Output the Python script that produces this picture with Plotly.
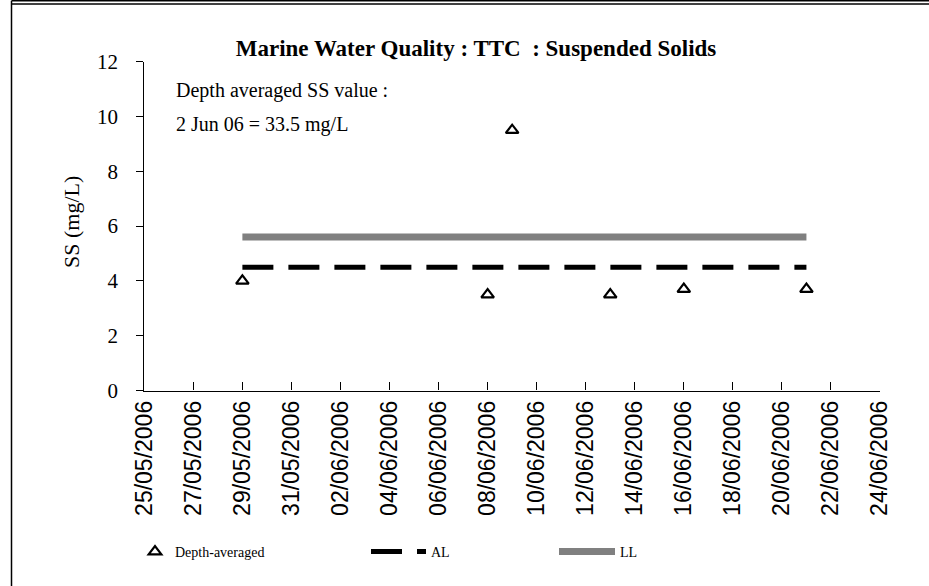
import plotly.graph_objects as go

# 측정 데이터
sample_dates = ['2006-05-29', '2006-06-08', '2006-06-09', '2006-06-13', '2006-06-16', '2006-06-21']
ss_values = [4.0, 3.5, 9.5, 3.5, 3.7, 3.7]
al_values = [4.5, 4.5, 4.5, 4.5, 4.5, 4.5]
ll_values = [5.6, 5.6, 5.6, 5.6, 5.6, 5.6]

W, H = 929, 586
serif = 'Liberation Serif, Times New Roman, serif'


def px_x(p):
    return p / W


def px_y(p):
    return 1 - p / H


fig = go.Figure()

fig.add_trace(go.Scatter(
    x=sample_dates, y=ll_values, mode='lines', name='LL',
    line=dict(color='#808080', width=7), legend='legend3'
))
fig.add_trace(go.Scatter(
    x=sample_dates, y=al_values, mode='lines', name='AL',
    line=dict(color='black', width=5, dash='31px,15px'), legend='legend2'
))
fig.add_trace(go.Scatter(
    x=sample_dates, y=ss_values, mode='markers', name='Depth-averaged',
    marker=dict(symbol='triangle-up-open', size=11, color='black', line=dict(width=2.2, color='black')),
    legend='legend'
))

legend_font = dict(family=serif, size=14, color='black')
fig.update_layout(
    width=W, height=H,
    margin=dict(l=0, r=0, t=0, b=0),
    paper_bgcolor='white', plot_bgcolor='white',
    title=dict(
        text='<b>Marine Water Quality : TTC  : Suspended Solids</b>',
        x=px_x(476), xanchor='center', y=px_y(48), yanchor='middle',
        font=dict(family=serif, size=23, color='black')
    ),
    xaxis=dict(
        domain=[px_x(144.3), px_x(880)],
        type='date',
        range=['2006-05-25', '2006-06-24'],
        tick0='2006-05-25', dtick=2 * 86400000,
        tickformat='%d/%m/%Y', tickangle=-90,
        ticks='inside', ticklen=8, tickcolor='black',
        showline=True, linecolor='black', linewidth=1.2,
        showgrid=False, zeroline=False, automargin=False,
        tickfont=dict(family='Liberation Sans, Arial, sans-serif', size=23, color='black'),
    ),
    yaxis=dict(
        domain=[px_y(390.5), px_y(61.7)],
        range=[0, 12], dtick=2,
        ticks='outside', ticklen=7, tickcolor='black',
        showline=True, linecolor='black', linewidth=1.2,
        showgrid=False, zeroline=False, automargin=False,
        ticklabelstandoff=14,
        tickfont=dict(family=serif, size=21, color='black'),
    ),
    legend=dict(orientation='h', x=px_x(135), xanchor='left', y=px_y(552), yanchor='middle',
                font=legend_font, itemwidth=30, bgcolor='rgba(0,0,0,0)'),
    legend2=dict(orientation='h', x=px_x(366), xanchor='left', y=px_y(552), yanchor='middle',
                 font=legend_font, itemwidth=55, bgcolor='rgba(0,0,0,0)'),
    legend3=dict(orientation='h', x=px_x(554), xanchor='left', y=px_y(552), yanchor='middle',
                 font=legend_font, itemwidth=56, bgcolor='rgba(0,0,0,0)'),
    showlegend=True,
)

# 축 제목
fig.add_annotation(
    text='SS (mg/L)', textangle=-90,
    xref='paper', yref='paper', x=px_x(72), y=px_y(222), xanchor='center', yanchor='middle',
    showarrow=False, font=dict(family=serif, size=22, color='black')
)

# 주석
fig.add_annotation(
    text='Depth averaged SS value :',
    xref='paper', yref='paper', x=px_x(174), y=px_y(91), xanchor='left', yanchor='middle',
    showarrow=False, font=dict(family=serif, size=20, color='black')
)
fig.add_annotation(
    text='2 Jun 06 = 33.5 mg/L',
    xref='paper', yref='paper', x=px_x(174), y=px_y(124), xanchor='left', yanchor='middle',
    showarrow=False, font=dict(family=serif, size=20, color='black')
)

# 테두리
line_style = dict(color='black', width=1.5)
fig.add_shape(type='line', xref='paper', yref='paper', x0=px_x(11.5), x1=1, y0=px_y(0.8), y1=px_y(0.8), line=line_style)
fig.add_shape(type='line', xref='paper', yref='paper', x0=px_x(11.5), x1=1, y0=px_y(4), y1=px_y(4), line=line_style)
fig.add_shape(type='line', xref='paper', yref='paper', x0=px_x(11.5), x1=px_x(11.5), y0=px_y(0.8), y1=0, line=line_style)

# 페이지 기본 여백 제거
fig.write_html('out.html', config={'displayModeBar': False},
               post_script="document.body.style.margin='0';")
